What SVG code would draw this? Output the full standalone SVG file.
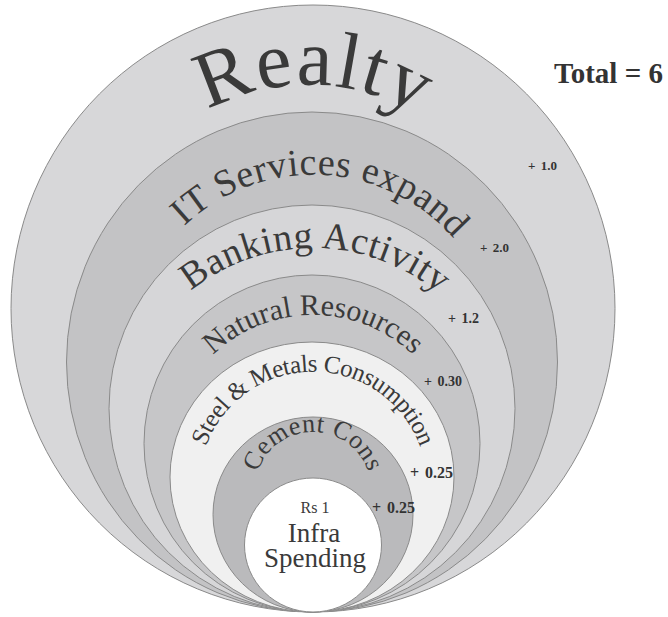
<svg xmlns="http://www.w3.org/2000/svg" xmlns:xlink="http://www.w3.org/1999/xlink" width="668" height="617" viewBox="0 0 668 617">
<style>
.ring{stroke:#8a8a8a;stroke-width:1}
.arc{font-family:'Liberation Serif','Times New Roman',serif;fill:#3a3a3a}
.num{font-family:'Liberation Serif','Times New Roman',serif;font-weight:bold;fill:#333;word-spacing:2px}
.lbl{font-family:'Liberation Serif','Times New Roman',serif;fill:#3a3a3a;text-anchor:middle}
</style>
<defs>
<path id="pRealty" d="M100.2,260.1 A212,212 0 0 1 517.8,260.1"/>
<path id="pIT" d="M128.8,329.5 A187,187 0 0 1 497.2,329.5"/>
<path id="pBank" d="M120,410 A196,196 0 0 1 506,410"/>
<path id="pNat" d="M170.2,434.8 A145,145 0 0 1 455.8,434.8"/>
<path id="pSteel" d="M199.4,476.1 A114,114 0 0 1 426.6,476.1"/>
<path id="pCem" d="M255,490 A58,58 0 0 1 371,490"/>
</defs>
<rect width="668" height="617" fill="#ffffff"/>
<g id="realty">
<ellipse class="ring" cx="313" cy="308.5" rx="302" ry="303.5" fill="#d7d7d9"/>
<text class="arc" font-size="80" letter-spacing="2"><textPath href="#pRealty" xlink:href="#pRealty" startOffset="301" text-anchor="middle">Realty</textPath></text>
</g>
<g id="it-services">
<ellipse class="ring" cx="312" cy="362" rx="245.5" ry="250" fill="#c3c3c5"/>
<text class="arc" font-size="38" letter-spacing="0.5"><textPath href="#pIT" xlink:href="#pIT" startOffset="270" text-anchor="middle">IT Services expand</textPath></text>
</g>
<g id="banking">
<ellipse class="ring" cx="312" cy="408.5" rx="203" ry="203.5" fill="#d6d6d8"/>
<text class="arc" font-size="38" letter-spacing="0.5"><textPath href="#pBank" xlink:href="#pBank" startOffset="276" text-anchor="middle">Banking Activity</textPath></text>
</g>
<g id="natural-resources">
<ellipse class="ring" cx="312" cy="443.5" rx="168" ry="168.5" fill="#c6c6c8"/>
<text class="arc" font-size="30"><textPath href="#pNat" xlink:href="#pNat" startOffset="50%" text-anchor="middle">Natural Resources</textPath></text>
</g>
<g id="steel-metals">
<ellipse class="ring" cx="312" cy="477" rx="142" ry="135" fill="#f0f0f0"/>
<text class="arc" font-size="25" letter-spacing="-0.5"><textPath href="#pSteel" xlink:href="#pSteel" startOffset="50%" text-anchor="middle">Steel &amp; Metals Consumption</textPath></text>
</g>
<g id="cement">
<ellipse class="ring" cx="313" cy="514.5" rx="100" ry="97.5" fill="#bababc"/>
<text class="arc" font-size="26" letter-spacing="0.5"><textPath href="#pCem" xlink:href="#pCem" startOffset="50%" text-anchor="middle">Cement Cons</textPath></text>
</g>
<g id="infra">
<ellipse class="ring" cx="313" cy="545" rx="68.5" ry="67" fill="#ffffff"/>
<text class="lbl" x="315" y="513" font-size="16">Rs 1</text>
<text class="lbl" x="314" y="542" font-size="27">Infra</text>
<text class="lbl" x="315" y="567" font-size="27">Spending</text>
</g>
<g id="labels">
<text class="num" x="528" y="170" font-size="13">+ 1.0</text>
<text class="num" x="480" y="252" font-size="13">+ 2.0</text>
<text class="num" x="448" y="323" font-size="14">+ 1.2</text>
<text class="num" x="424" y="386" font-size="14">+ 0.30</text>
<text class="num" x="410" y="478" font-size="16">+ 0.25</text>
<text class="num" x="372" y="513" font-size="16">+ 0.25</text>
<text x="554" y="83" font-family="'Liberation Serif','Times New Roman',serif" font-weight="bold" font-size="29" fill="#333">Total = 6</text>
</g>
<g id="connectors"/>
</svg>
